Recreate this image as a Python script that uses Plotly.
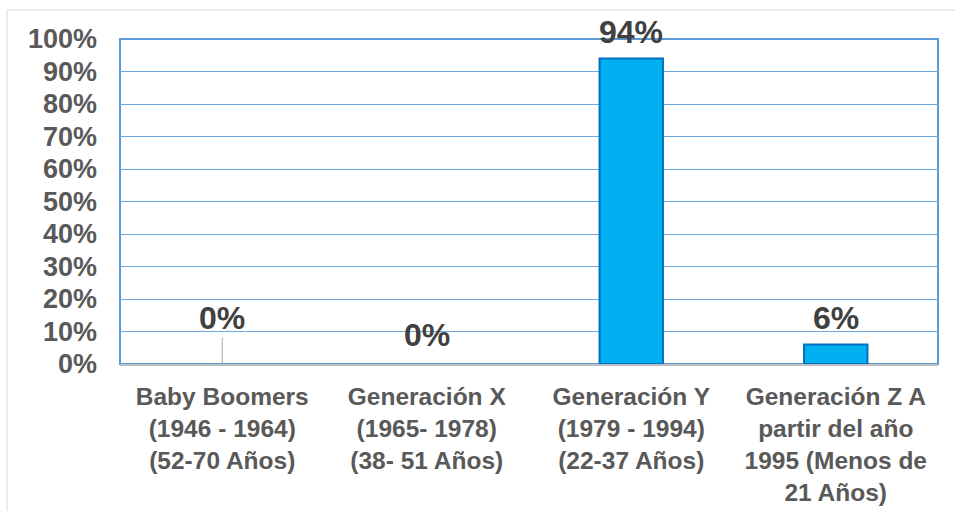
import plotly.graph_objects as go

categories = [
    "Baby Boomers<br>(1946 - 1964)<br>(52-70 Años)",
    "Generación X<br>(1965- 1978)<br>(38- 51 Años)",
    "Generación Y<br>(1979 - 1994)<br>(22-37 Años)",
    "Generación Z A<br>partir del año<br>1995 (Menos de<br>21 Años)",
]
values = [0.0, 0.0, 0.94, 0.06]
labels = ["0%", "0%", "94%", "6%"]
tick_vals = [i / 10 for i in range(11)]
tick_text = [f"{i * 10}%" for i in range(11)]

FONT = "Arial, Liberation Sans, sans-serif"
W, H = 955, 511
L, R, T, B = 120, 17, 39, 147
pw, ph = W - L - R, H - T - B

fig = go.Figure()
fig.add_trace(go.Bar(
    x=categories, y=values,
    marker=dict(color="#00B0F0",
                line=dict(color="#0070C0", width=[2 if v > 0 else 0 for v in values])),
    hoverinfo="skip",
))

annotations = []
for i, (c, v, t) in enumerate(zip(categories, values, labels)):
    base = dict(x=c, y=v, xref="x", yref="y", text=t,
                font=dict(family=FONT, size=32, color="#404040", weight="bold"))
    if i == 0:
        annotations.append(dict(base, showarrow=True, ax=0, ay=-46, arrowhead=0,
                                arrowwidth=1, arrowcolor="#A6A6A6", standoff=0))
    elif i == 1:
        annotations.append(dict(base, showarrow=False, yanchor="middle", yshift=29))
    else:
        annotations.append(dict(base, showarrow=False, yanchor="middle", yshift=27))

shapes = [
    # outer chart frame
    dict(type="rect", xref="paper", yref="paper",
         x0=(7 - L) / pw, x1=1.2, y0=-0.8, y1=(ph + T - 10) / ph,
         line=dict(color="#D9D9D9", width=1), layer="below"),
    # plot-area border
    dict(type="rect", xref="paper", yref="paper", x0=0, x1=1, y0=0, y1=1,
         line=dict(color="#5B9BD5", width=2), layer="below"),
]

fig.update_layout(
    width=W, height=H,
    margin=dict(l=L, r=R, t=T, b=B, pad=0, autoexpand=False),
    paper_bgcolor="white", plot_bgcolor="white",
    showlegend=False,
    bargap=0.69,
    annotations=annotations,
    shapes=shapes,
    font=dict(family=FONT),
)
fig.update_yaxes(
    range=[0, 1], tickvals=tick_vals, ticktext=tick_text,
    showgrid=True, gridcolor="#6FA8DC", gridwidth=1, zeroline=False,
    tickfont=dict(family=FONT, size=27, color="#595959", weight="bold"),
    ticklabelstandoff=22, showline=False, fixedrange=True, automargin=False,
)
fig.update_xaxes(
    showline=True, linecolor="#BFBFBF", linewidth=2,
    tickfont=dict(family=FONT, size=24.5, color="#595959", weight="bold"),
    ticklabelstandoff=10, showgrid=False, fixedrange=True, automargin=False,
)
fig.write_html("out.html", config={"displayModeBar": False},
               post_script="document.body.style.margin='0';document.body.style.overflow='hidden';")
